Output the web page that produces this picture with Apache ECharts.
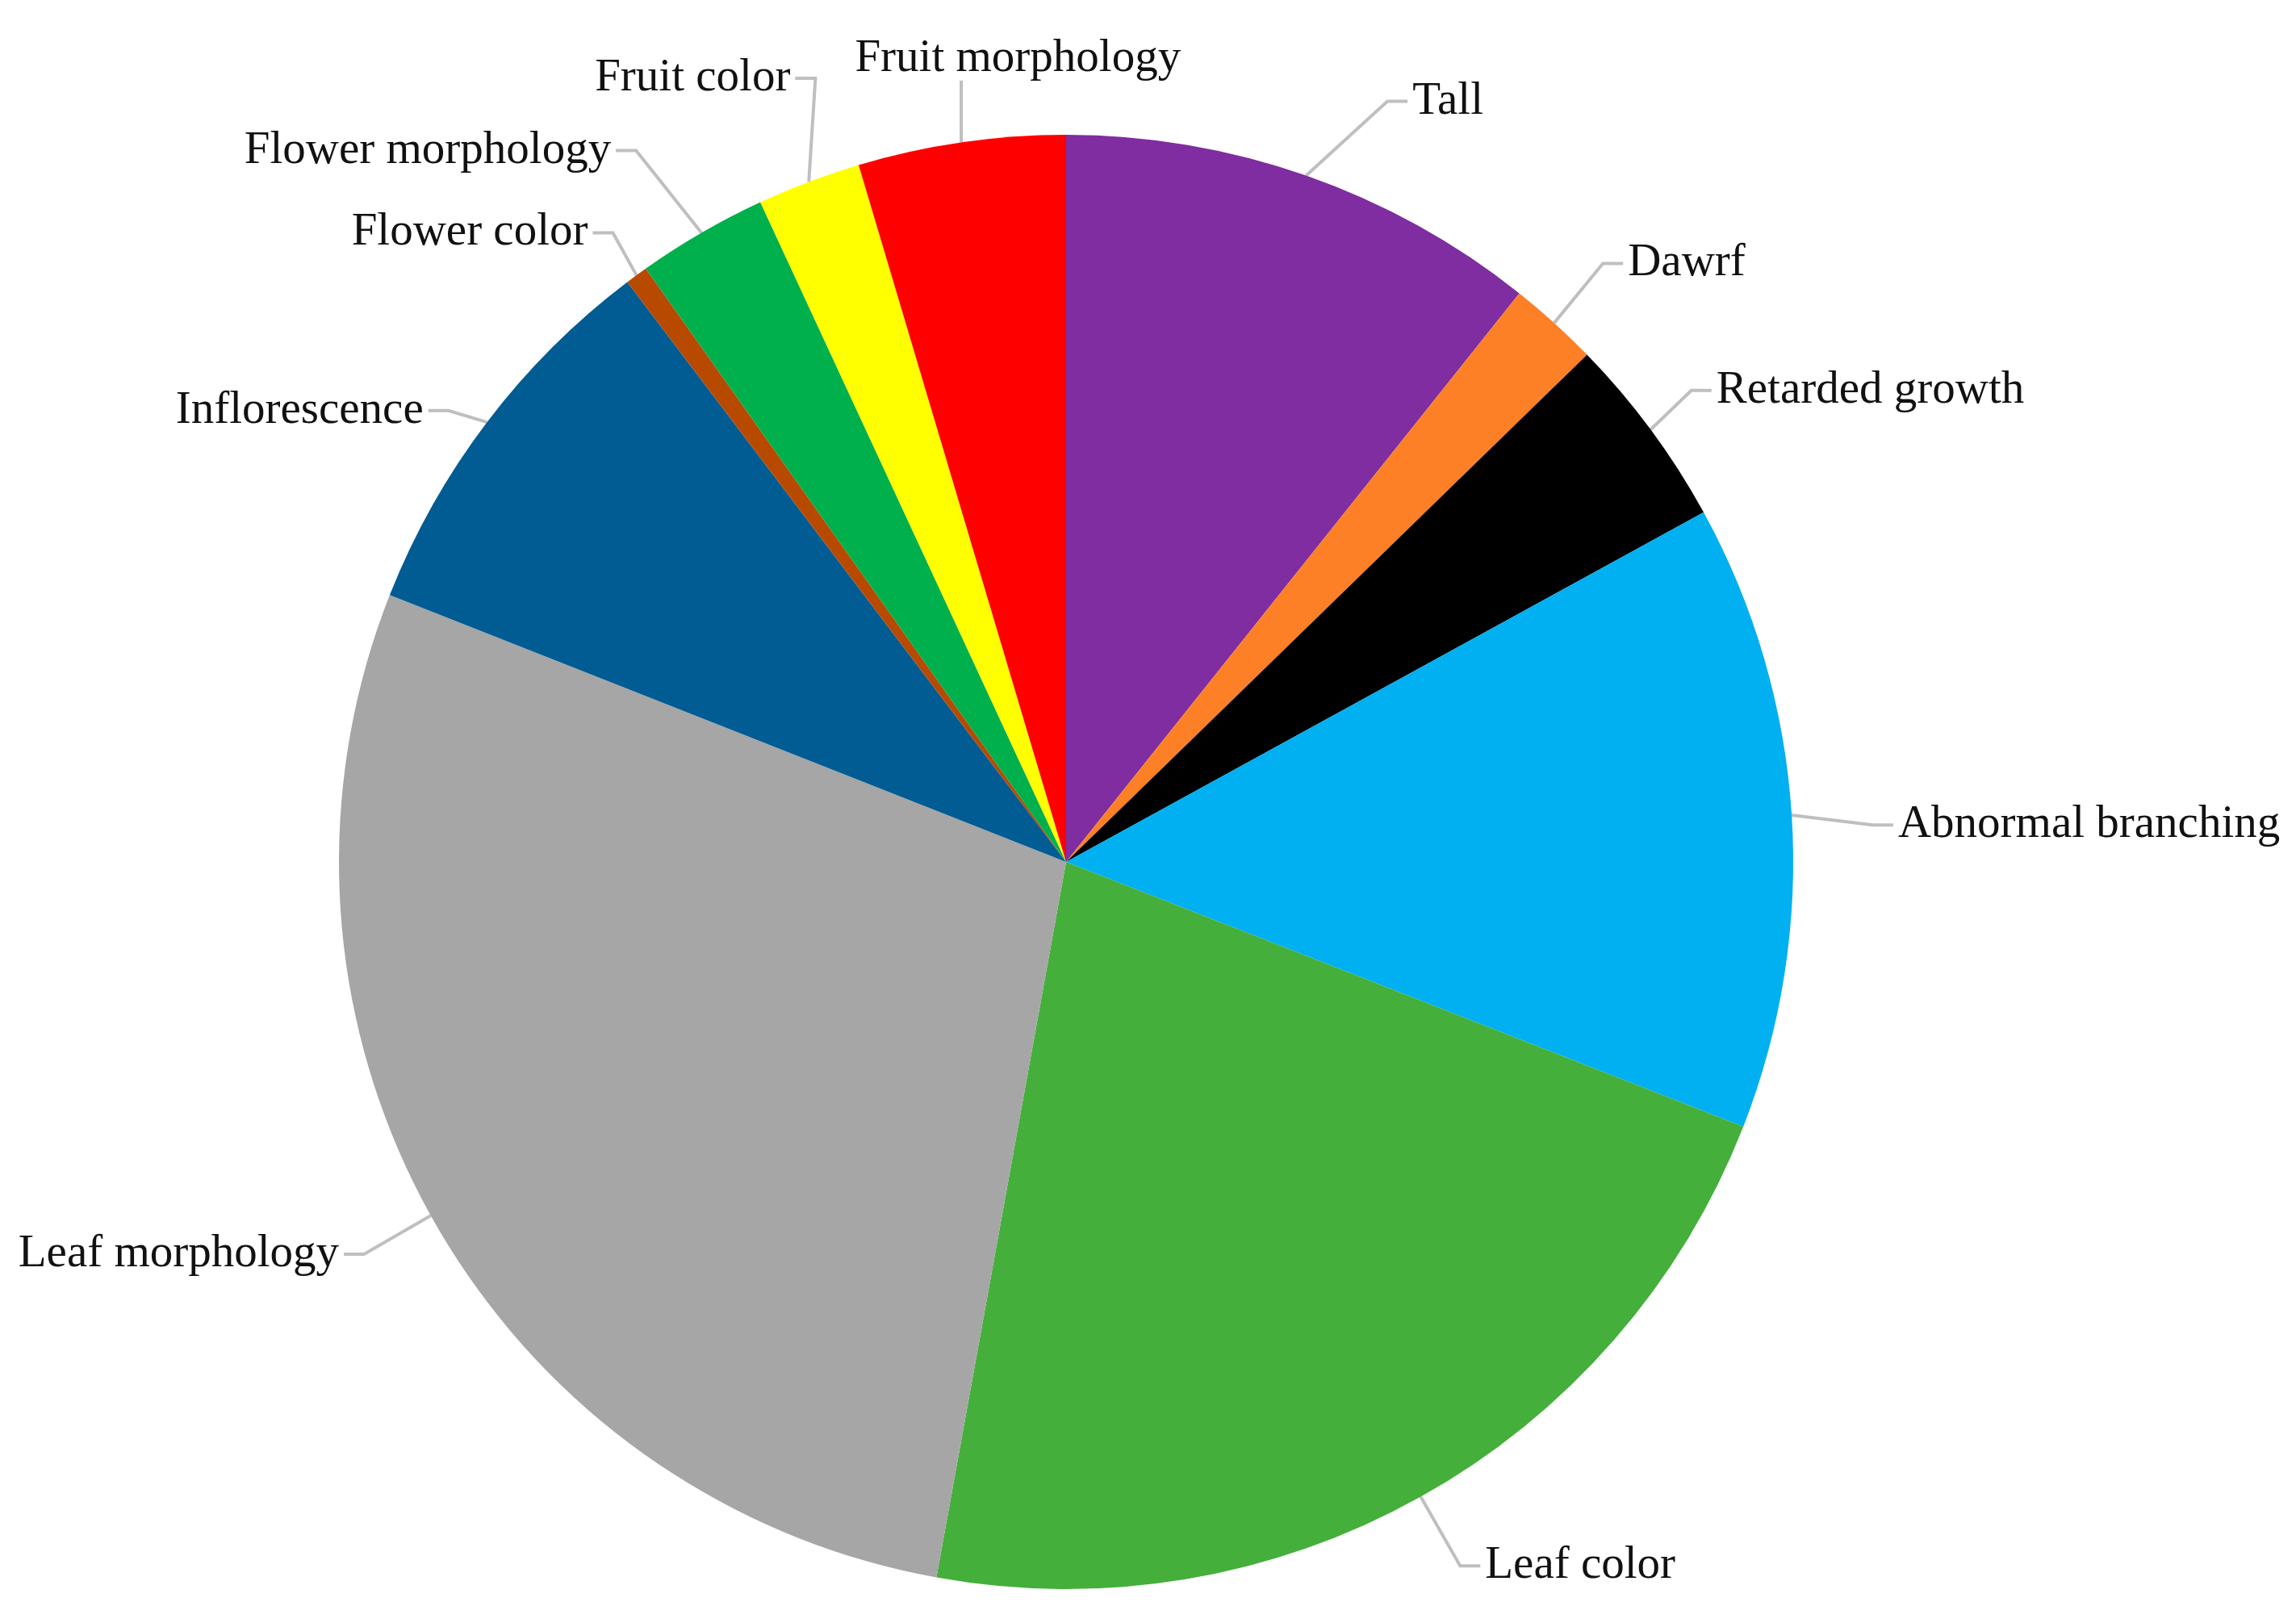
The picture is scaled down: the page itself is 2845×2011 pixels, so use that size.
<!DOCTYPE html>
<html>
<head>
<meta charset="utf-8">
<script src="https://cdn.jsdelivr.net/npm/echarts@6/dist/echarts.min.js"></script>
<style>
html,body{margin:0;padding:0;background:#fff;}
#chart{width:2845px;height:2011px;}
</style>
</head>
<body>
<div id="chart"></div>
<script>
// Categories in clockwise order starting from 12 o'clock
const categories = ["Tall", "Dawrf", "Retarded growth", "Abnormal branching", "Leaf color",
  "Leaf morphology", "Inflorescence", "Flower color", "Flower morphology", "Fruit color", "Fruit morphology"];
// Share of each category (%)
const values = [10.7, 2.0, 4.3, 13.9, 21.9, 28.1, 8.7, 0.5, 2.9, 2.3, 4.6];
const colors = ["#7F2DA0", "#FD8027", "#000000", "#00B0F0", "#45AF3B",
  "#A6A6A6", "#005C93", "#B84A00", "#00B04C", "#FFFF00", "#FF0000"];

// Label layout nudges (px) relative to ECharts' default outside label placement
const labelNudge = [[71, -7], [0, -7], [-22, 5], [11, 18], [5, 7], [-4, 4],
  [24, 40], [24, 20], [-36, -24], [40, -44], [316, -14]];
// Labels drawn centred above a vertical leader (Excel "top" style)
const topStyleLabel = [false, false, false, false, false, false, false, false, false, false, true];

const chart = echarts.init(document.getElementById('chart'), null, {renderer: 'canvas'});
chart.setOption({
  backgroundColor: '#ffffff',
  animation: false,
  series: [{
    type: 'pie',
    center: [1321, 1068],
    radius: [0, 901],
    startAngle: 90,
    clockwise: true,
    avoidLabelOverlap: false,
    minShowLabelAngle: 0,
    color: colors,
    data: categories.map((c, i) => ({name: c, value: values[i]})),
    itemStyle: {borderWidth: 0},
    emphasis: {disabled: true},
    label: {
      show: true,
      position: 'outside',
      formatter: '{b}',
      fontFamily: 'Liberation Serif, Times New Roman, serif',
      fontSize: 57,
      color: '#111111',
      distanceToLabelLine: 6
    },
    labelLine: {
      show: true,
      length: 90,
      length2: 25,
      smooth: false,
      lineStyle: {color: '#BFBFBF', width: 4}
    },
    labelLayout: function (params) {
      const i = params.dataIndex;
      const d = labelNudge[i];
      const pts = params.labelLinePoints;
      if (!pts) return {dx: d[0], dy: d[1]};
      let newPts;
      if (topStyleLabel[i]) {
        const yEnd = params.labelRect.y + params.labelRect.height + d[1] - 2;
        newPts = [pts[0], [pts[0][0], yEnd], [pts[0][0], yEnd]];
      } else {
        newPts = [pts[0], [pts[1][0] + d[0], pts[1][1] + d[1]], [pts[2][0] + d[0], pts[2][1] + d[1]]];
      }
      return {dx: d[0], dy: d[1], hideOverlap: false, labelLinePoints: newPts};
    }
  }]
});
</script>
</body>
</html>
